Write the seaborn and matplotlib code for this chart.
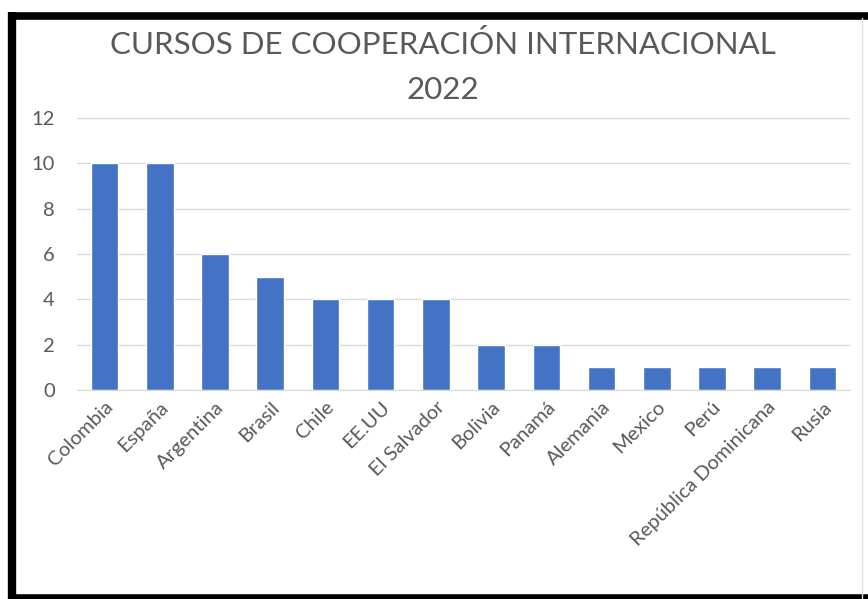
import pandas as pd
import seaborn as sns
import matplotlib
matplotlib.use('Agg')
import matplotlib.pyplot as plt
from matplotlib.lines import Line2D

paises = ['Colombia', 'España', 'Argentina', 'Brasil', 'Chile', 'EE.UU', 'El Salvador',
          'Bolivia', 'Panamá', 'Alemania', 'Mexico', 'Perú', 'República Dominicana', 'Rusia']
cursos = [10, 10, 6, 5, 4, 4, 4, 2, 2, 1, 1, 1, 1, 1]

df = pd.DataFrame({'pais': paises, 'cursos': cursos})

sns.set_style('white')
plt.rcParams['font.family'] = ['Lato', 'DejaVu Sans']

fig = plt.figure(figsize=(8.68, 5.99), dpi=100)
ax = fig.add_axes([77 / 868, 1 - 390 / 599, (850 - 77) / 868, (390 - 118) / 599])

sns.barplot(data=df, x='pais', y='cursos', color='#4472C4', width=0.5, ax=ax, saturation=1)

ax.set_ylim(0, 12)
ax.set_yticks(range(0, 13, 2))
ax.set_xlim(-0.5, len(paises) - 0.5)
ax.yaxis.grid(True, color='#D9D9D9', linewidth=1)
ax.set_axisbelow(True)
for s in ['top', 'right', 'left']:
    ax.spines[s].set_visible(False)
ax.spines['bottom'].set_color('#D9D9D9')
ax.tick_params(axis='both', length=0, labelsize=14.5, colors='#595959')
ax.tick_params(axis='y', pad=16)
ax.tick_params(axis='x', pad=6)
ax.set_xlabel('')
ax.set_ylabel('')
plt.setp(ax.get_xticklabels(), rotation=45, ha='right', rotation_mode='anchor')

fig.text(443 / 868, 1 - 45 / 599, 'CURSOS DE COOPERACIÓN INTERNACIONAL', ha='center', va='center',
         fontsize=22.5, color='#595959')
fig.text(443 / 868, 1 - 90 / 599, '2022', ha='center', va='center', fontsize=22.5, color='#595959')

# marco negro de la captura
kw = dict(color='black', solid_capstyle='butt', transform=fig.transFigure)
fig.add_artist(Line2D([12 / 868, 12 / 868], [0, 1 - 12 / 599], linewidth=6, **kw))
fig.add_artist(Line2D([9 / 868, 1], [1 - 15.5 / 599, 1 - 15.5 / 599], linewidth=5.5, **kw))
fig.add_artist(Line2D([9 / 868, 1], [2.5 / 599, 2.5 / 599], linewidth=4, **kw))
fig.add_artist(Line2D([862 / 868, 862 / 868], [0, 1 - 18 / 599], color='#E0E0E0', linewidth=1,
                      transform=fig.transFigure))

fig.savefig('out.png', dpi=100)
